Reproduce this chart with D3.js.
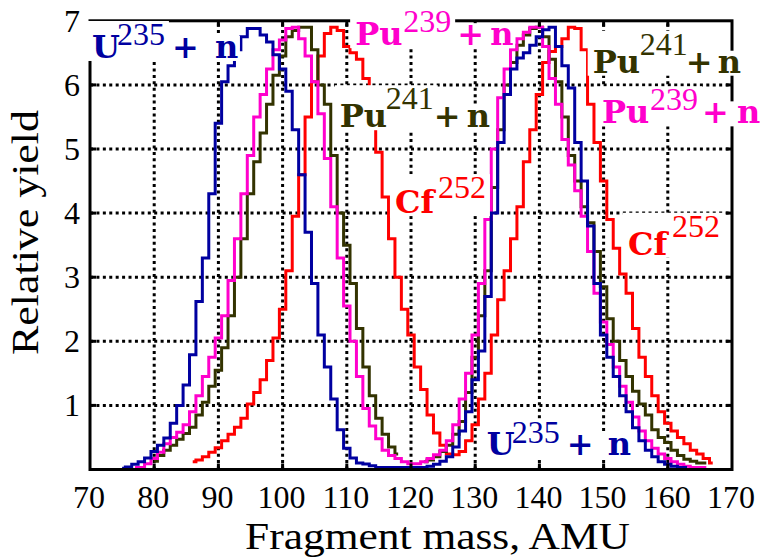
<!DOCTYPE html>
<html lang="en">
<head>
<meta charset="UTF-8">
<title>Fission fragment mass yield</title>
<script src="https://d3js.org/d3.v7.min.js"></script>
<style>
  body { margin: 0; background: #fff; }
  text { font-family: "Liberation Serif", "Times New Roman", serif; }
  .lbl { font-family: "DejaVu Serif", serif; font-weight: bold; }
</style>
</head>
<body>
<svg id="chart" width="760" height="557"></svg>
<script>
// fragment mass, AMU (one value per mass number)
const mass = [
  75, 76, 77, 78, 79, 80, 81, 82, 83, 84, 85, 86, 87, 88, 89, 90, 91, 92, 93, 94,
  95, 96, 97, 98, 99, 100, 101, 102, 103, 104, 105, 106, 107, 108, 109, 110, 111, 112, 113, 114,
  115, 116, 117, 118, 119, 120, 121, 122, 123, 124, 125, 126, 127, 128, 129, 130, 131, 132, 133, 134,
  135, 136, 137, 138, 139, 140, 141, 142, 143, 144, 145, 146, 147, 148, 149, 150, 151, 152, 153, 154,
  155, 156, 157, 158, 159, 160, 161, 162, 163, 164, 165, 166, 167, 168
];

// relative yields, null where the curve is not drawn
const u235 = [
  0.02, 0.04, 0.08, 0.12, 0.18, 0.28, 0.38, 0.49, 0.72, 1.0, 1.32, 1.79, 2.62, 3.3, 4.3, 5.4, 6.05, 6.3, 6.55, 6.75,
  6.88, 6.88, 6.78, 6.67, 6.47, 6.25, 5.9, 5.3, 4.6, 3.7, 2.9, 2.1, 1.6, 1.1, 0.62, 0.33, 0.18, 0.1, 0.085, 0.06,
  0.03, 0.03, 0.03, 0.03, 0.03, 0.03, 0.03, 0.03, 0.05, 0.08, 0.13, 0.2, 0.35, 0.6, 0.9, 1.4, 1.85, 2.7, 4.0, 5.1,
  5.85, 6.25, 6.42, 6.5, 6.62, 6.75, 6.86, 6.9, 6.6, 6.3, 5.95, 5.1, 4.5, 3.8, 2.9, 2.1, 1.75, 1.45, 1.15, 0.9,
  0.65, 0.45, 0.3, 0.2, 0.12, 0.08, 0.05, 0.03, 0.03, null, null, null, null, null
];
const pu239 = [
  null, null, 0.03, 0.03, 0.09, 0.17, 0.27, 0.4, 0.5, 0.58, 0.7, 0.9, 1.15, 1.45, 1.75, 2.05, 2.4, 2.95, 3.6, 4.3,
  4.9, 5.5, 5.85, 6.25, 6.55, 6.7, 6.88, 6.9, 6.72, 6.45, 6.05, 5.55, 4.85, 4.1, 3.3, 2.55, 2.0, 1.45, 0.95, 0.68,
  0.48, 0.3, 0.22, 0.17, 0.12, 0.09, 0.09, 0.12, 0.17, 0.23, 0.3, 0.45, 0.7, 1.1, 1.5, 2.1, 2.9, 3.9, 5.0, 5.8,
  6.25, 6.55, 6.72, 6.82, 6.9, 6.9, 6.6, 6.1, 5.7, 5.15, 4.75, 4.35, 3.95, 3.4, 2.75, 2.3, 1.95, 1.6, 1.3, 1.05,
  0.82, 0.6, 0.45, 0.33, 0.24, 0.17, 0.12, 0.08, 0.05, 0.03, 0.03, 0.03, null, null
];
const pu241 = [
  null, null, null, null, null, 0.13, 0.22, 0.3, 0.38, 0.47, 0.56, 0.66, 0.85, 1.05, 1.3, 1.55, 1.9, 2.4, 3.0, 3.6,
  4.3, 4.8, 5.25, 5.7, 6.15, 6.45, 6.75, 6.85, 6.9, 6.9, 6.55, 6.0, 5.7, 4.9, 4.0, 3.5, 2.9, 2.2, 1.6, 1.15,
  0.8, 0.55, 0.35, 0.24, null, null, null, 0.12, 0.15, 0.2, 0.28, 0.38, 0.55, 0.75, 1.2, 1.75, 2.4, 3.1, 4.4, 5.3,
  6.0, 6.35, 6.62, 6.78, 6.88, 6.9, 6.75, 6.4, 6.05, 5.5, 4.9, 4.5, 4.1, 3.85, 3.4, 2.85, 2.35, 2.0, 1.7, 1.45,
  1.22, 1.02, 0.85, 0.62, 0.5, 0.42, 0.3, 0.22, 0.16, 0.13, 0.1, 0.1, null, null
];
const cf252 = [
  null, null, null, null, null, null, null, null, null, null, null, 0.12, 0.15, 0.2, 0.27, 0.34, 0.45, 0.55, 0.66, 0.8,
  1.02, 1.2, 1.4, 1.7, 2.05, 2.5, 3.1, 3.95, 4.6, 5.5, 6.05, 6.45, 6.8, 6.9, 6.85, 6.6, 6.5, 6.4, 6.1, 5.5,
  4.95, 4.25, 3.6, 3.0, 2.5, 2.1, 1.6, 1.25, 0.85, 0.57, 0.38, 0.24, 0.23, 0.28, 0.45, 0.7, 1.1, 1.5, 2.1, 2.65,
  3.1, 3.6, 4.1, 4.8, 5.3, 5.85, 6.35, 6.52, 6.6, 6.72, 6.9, 6.88, 6.55, 5.7, 5.1, 4.5, 3.9, 3.45, 3.05, 2.75,
  2.2, 1.75, 1.45, 1.15, 0.9, 0.72, 0.6, 0.5, 0.4, 0.3, 0.24, 0.17, 0.1, null
];

const xTicks = [70, 80, 90, 100, 110, 120, 130, 140, 150, 160, 170];
const yTicks = [1, 2, 3, 4, 5, 6, 7];

const series = [
  { name: "Cf252", values: cf252, color: "#ff0000" },
  { name: "Pu241", values: pu241, color: "#333300" },
  { name: "Pu239", values: pu239, color: "#ff00cc" },
  { name: "U235", values: u235, color: "#0000a0" }
];

// curve labels: anchor in chart units, part offsets in pixels
const labels = [
  { main: "U",  sup: "235", m: 70.3,  v: 6.42, color: "#0000a0", supDx: 25, supDy: -13, plusDx: 83,  nDx: 123 },
  { main: "Pu", sup: "239", m: 111.3, v: 6.62, color: "#ff00cc", supDx: 48, supDy: -13, plusDx: 105, nDx: 135 },
  { main: "Pu", sup: "241", m: 108.9, v: 5.34, color: "#333300", supDx: 46, supDy: -18, plusDx: 97,  nDx: 127 },
  { main: "Pu", sup: "241", m: 148.3, v: 6.19, color: "#333300", supDx: 47, supDy: -18, plusDx: 96,  nDx: 125 },
  { main: "Pu", sup: "239", m: 149.75, v: 5.4, color: "#ff00cc", supDx: 48, supDy: -13, plusDx: 103, nDx: 135 },
  { main: "Cf", sup: "252", m: 117.5, v: 4.0,  color: "#ff0000", supDx: 43, supDy: -15 },
  { main: "Cf", sup: "252", m: 153.8, v: 3.35, color: "#ff0000", supDx: 44, supDy: -18 },
  { main: "U",  sup: "235", m: 131.8, v: 0.23, color: "#0000a0", supDx: 25, supDy: -12, plusDx: 83,  nDx: 121 }
];

const svg = d3.select("#chart");
const width = +svg.attr("width");
const height = +svg.attr("height");
const margin = { top: 20.8, right: 28, bottom: 87.5, left: 90 };

const x = d3.scaleLinear().domain([70, 170]).range([margin.left, width - margin.right]);
const y = d3.scaleLinear().domain([0, 7]).range([height - margin.bottom, margin.top]);

svg.append("rect").attr("width", width).attr("height", height).attr("fill", "#fff");

// dotted grid
const grid = svg.append("g")
  .attr("stroke", "#000")
  .attr("stroke-width", 3)
  .attr("stroke-dasharray", "3,3.42");
grid.selectAll(".gx")
  .data(xTicks.slice(1, -1))
  .enter().append("line")
  .attr("x1", d => x(d)).attr("x2", d => x(d))
  .attr("y1", y(0)).attr("y2", y(7));
grid.selectAll(".gy")
  .data(yTicks.slice(0, -1))
  .enter().append("line")
  .attr("y1", d => y(d)).attr("y2", d => y(d))
  .attr("x1", x(70)).attr("x2", x(170));

// yield curves
const line = d3.line()
  .defined(d => d[1] != null)
  .x(d => x(d[0]))
  .y(d => y(d[1]))
  .curve(d3.curveStep);

svg.append("g").selectAll("path")
  .data(series)
  .enter().append("path")
  .attr("fill", "none")
  .attr("stroke", d => d.color)
  .attr("stroke-width", 3)
  .attr("d", d => line(mass.map((m, i) => [m, d.values[i]])));

// frame and inward ticks
svg.append("rect")
  .attr("x", x(70)).attr("y", y(7))
  .attr("width", x(170) - x(70)).attr("height", y(0) - y(7))
  .attr("fill", "none").attr("stroke", "#000").attr("stroke-width", 3);

const ticks = svg.append("g").attr("stroke", "#000").attr("stroke-width", 3);
xTicks.slice(1, -1).forEach(t => {
  ticks.append("line").attr("x1", x(t)).attr("x2", x(t)).attr("y1", y(0)).attr("y2", y(0) - 6);
  ticks.append("line").attr("x1", x(t)).attr("x2", x(t)).attr("y1", y(7)).attr("y2", y(7) + 6);
});
yTicks.slice(0, -1).forEach(t => {
  ticks.append("line").attr("y1", y(t)).attr("y2", y(t)).attr("x1", x(70)).attr("x2", x(70) + 6);
  ticks.append("line").attr("y1", y(t)).attr("y2", y(t)).attr("x1", x(170)).attr("x2", x(170) - 6);
});

// tick labels
svg.append("g").selectAll("text")
  .data(xTicks)
  .enter().append("text")
  .attr("x", d => x(d) - 1)
  .attr("y", y(0) + 38)
  .attr("text-anchor", "middle")
  .attr("font-size", 32)
  .text(d => d);

svg.append("g").selectAll("text")
  .data(yTicks)
  .enter().append("text")
  .attr("x", x(70) - 10)
  .attr("y", d => y(d) + 11)
  .attr("text-anchor", "end")
  .attr("font-size", 32)
  .text(d => d);

// axis titles
svg.append("text")
  .attr("x", 437.5)
  .attr("y", 549)
  .attr("text-anchor", "middle")
  .attr("font-size", 37)
  .attr("textLength", 385)
  .attr("lengthAdjust", "spacingAndGlyphs")
  .text("Fragment mass, AMU");

svg.append("text")
  .attr("transform", "translate(38,232.5) rotate(-90)")
  .attr("text-anchor", "middle")
  .attr("font-size", 37)
  .attr("textLength", 245)
  .attr("lengthAdjust", "spacingAndGlyphs")
  .text("Relative yield");

// curve labels with white boxes
const labelLayer = svg.append("g");
labels.forEach(l => {
  const x0 = x(l.m), y0 = y(l.v);
  const g = labelLayer.append("g").attr("fill", l.color);
  const supW = 48;
  // head box: name + superscript
  g.append("rect")
    .attr("x", x0 - 5).attr("y", y0 + l.supDy - 24)
    .attr("width", l.supDx + supW + 9).attr("height", 24 - l.supDy + 3)
    .attr("fill", "#fff");
  if (l.plusDx != null) {
    g.append("rect")
      .attr("x", x0 + l.plusDx - 3).attr("y", y0 - 22)
      .attr("width", l.nDx - l.plusDx + 28).attr("height", 25)
      .attr("fill", "#fff");
  }
  g.append("text")
    .attr("class", "lbl")
    .attr("x", x0).attr("y", y0)
    .attr("font-size", 32)
    .text(l.main);
  g.append("text")
    .attr("x", x0 + l.supDx).attr("y", y0 + l.supDy)
    .attr("font-size", 32)
    .text(l.sup);
  if (l.plusDx != null) {
    g.append("text")
      .attr("class", "lbl")
      .attr("x", x0 + l.plusDx - 3).attr("y", y0)
      .attr("font-size", 32)
      .text("+");
    g.append("text")
      .attr("class", "lbl")
      .attr("x", x0 + l.nDx).attr("y", y0)
      .attr("font-size", 32)
      .text("n");
  }
});
</script>
</body>
</html>
